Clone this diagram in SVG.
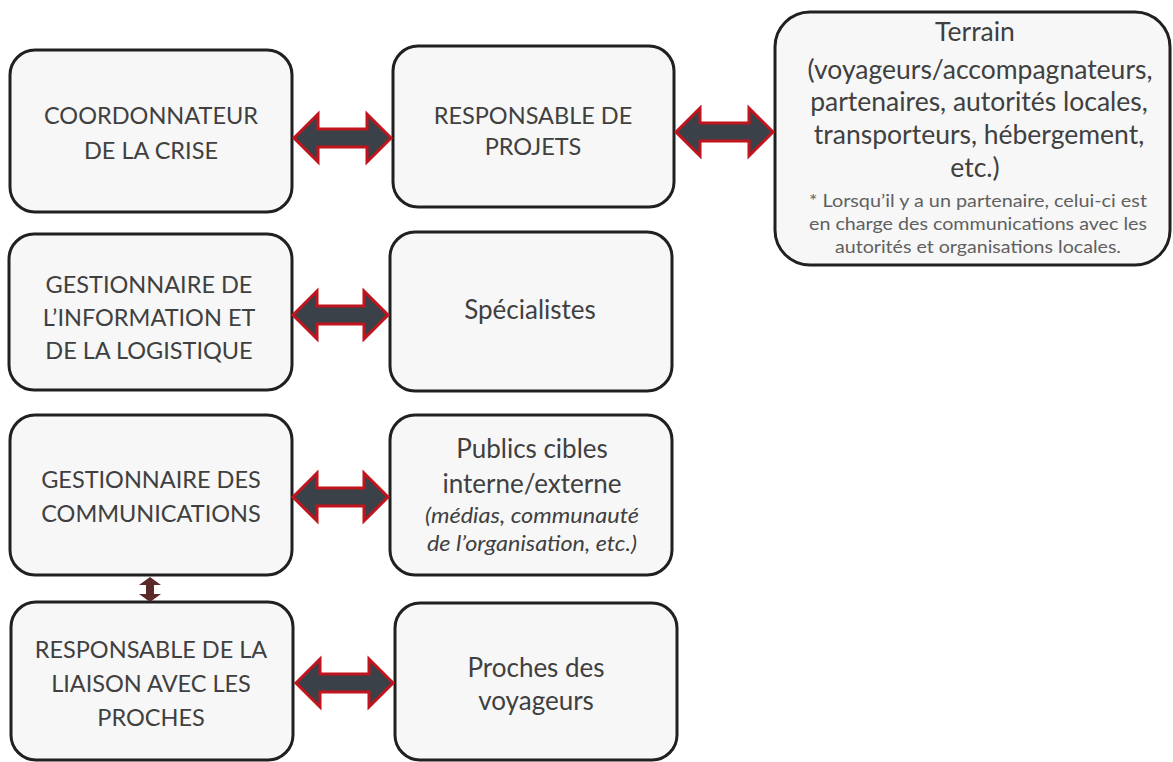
<svg xmlns="http://www.w3.org/2000/svg" width="1173" height="762" viewBox="0 0 1173 762">
<style>
.box{fill:#f7f7f7;stroke:#202020;stroke-width:3}
.t{font-family:Lato,"Open Sans",sans-serif;fill:#404040;text-anchor:middle}
.cap{font-size:23.5px}
.mid{font-size:26px}
.ter{font-size:26.5px}
.note{font-size:17px;fill:#606060}
.it{font-style:italic;font-size:21px}
.arr{fill:#3a4148;stroke:#c2141c;stroke-width:3;stroke-linejoin:miter}
.varr{fill:#5a2a2a;stroke:none}
</style>
<rect width="1173" height="762" fill="#ffffff"/>
<g id="coordonnateur">
<rect class="box" x="10" y="50" width="282" height="162" rx="25"/>
<text class="t cap" x="151" y="124">COORDONNATEUR</text>
<text class="t cap" x="151" y="159">DE LA CRISE</text>
</g>
<g id="responsable-projets">
<rect class="box" x="393" y="46" width="281" height="161" rx="25"/>
<text class="t cap" x="533" y="124">RESPONSABLE DE</text>
<text class="t cap" x="533" y="155">PROJETS</text>
</g>
<g id="terrain">
<rect class="box" x="775" y="12" width="395" height="253" rx="35"/>
<text class="t ter" x="975" y="41">Terrain</text>
<text class="t ter" x="980" y="79">(voyageurs/accompagnateurs,</text>
<text class="t ter" x="979" y="111">partenaires, autorités locales,</text>
<text class="t ter" x="979" y="144">transporteurs, hébergement,</text>
<text class="t ter" x="975" y="177">etc.)</text>
<text class="t note" x="978" y="207" textLength="338" lengthAdjust="spacingAndGlyphs">* Lorsqu’il y a un partenaire, celui-ci est</text>
<text class="t note" x="978" y="230" textLength="338" lengthAdjust="spacingAndGlyphs">en charge des communications avec les</text>
<text class="t note" x="978" y="253" textLength="286" lengthAdjust="spacingAndGlyphs">autorités et organisations locales.</text>
</g>
<g id="gestionnaire-information">
<rect class="box" x="9" y="234" width="283" height="156" rx="25"/>
<text class="t cap" x="149" y="293">GESTIONNAIRE DE</text>
<text class="t cap" x="149" y="326">L’INFORMATION ET</text>
<text class="t cap" x="149" y="359">DE LA LOGISTIQUE</text>
</g>
<g id="specialistes">
<rect class="box" x="390" y="232" width="282" height="159" rx="25"/>
<text class="t mid" x="530" y="319">Spécialistes</text>
</g>
<g id="gestionnaire-communications">
<rect class="box" x="10" y="415" width="282" height="160" rx="25"/>
<text class="t cap" x="151" y="488">GESTIONNAIRE DES</text>
<text class="t cap" x="151" y="522">COMMUNICATIONS</text>
</g>
<g id="publics-cibles">
<rect class="box" x="390" y="415" width="282" height="160" rx="25"/>
<text class="t mid" x="532" y="458">Publics cibles</text>
<text class="t mid" x="532" y="493">interne/externe</text>
<text class="t it" x="532" y="523" textLength="214" lengthAdjust="spacingAndGlyphs">(médias, communauté</text>
<text class="t it" x="532" y="551" textLength="210" lengthAdjust="spacingAndGlyphs">de l’organisation, etc.)</text>
</g>
<g id="responsable-liaison">
<rect class="box" x="11" y="602" width="282" height="158" rx="25"/>
<text class="t cap" x="151" y="658">RESPONSABLE DE LA</text>
<text class="t cap" x="151" y="692">LIAISON AVEC LES</text>
<text class="t cap" x="151" y="726">PROCHES</text>
</g>
<g id="proches">
<rect class="box" x="395" y="603" width="282" height="157" rx="25"/>
<text class="t mid" x="536" y="677">Proches des</text>
<text class="t mid" x="536" y="710">voyageurs</text>
</g>
<g id="connectors">
<path class="arr" d="M294,138 L318,114 L318,129 L367,129 L367,114 L391,138 L367,162 L367,147 L318,147 L318,162 Z"/>
<path class="arr" d="M676,132 L700,108 L700,123 L749,123 L749,108 L773,132 L749,156 L749,141 L700,141 L700,156 Z"/>
<path class="arr" d="M293,315 L317,291 L317,306 L364,306 L364,291 L388,315 L364,339 L364,324 L317,324 L317,339 Z"/>
<path class="arr" d="M293,497 L317,473 L317,488 L364,488 L364,473 L388,497 L364,521 L364,506 L317,506 L317,521 Z"/>
<path class="arr" d="M296,683 L320,659 L320,674 L369,674 L369,659 L393,683 L369,707 L369,692 L320,692 L320,707 Z"/>
<path class="varr" d="M150,577 L161,585 L154,585 L154,594 L161,594 L150,602 L139,594 L146,594 L146,585 L139,585 Z"/>
</g>
</svg>
